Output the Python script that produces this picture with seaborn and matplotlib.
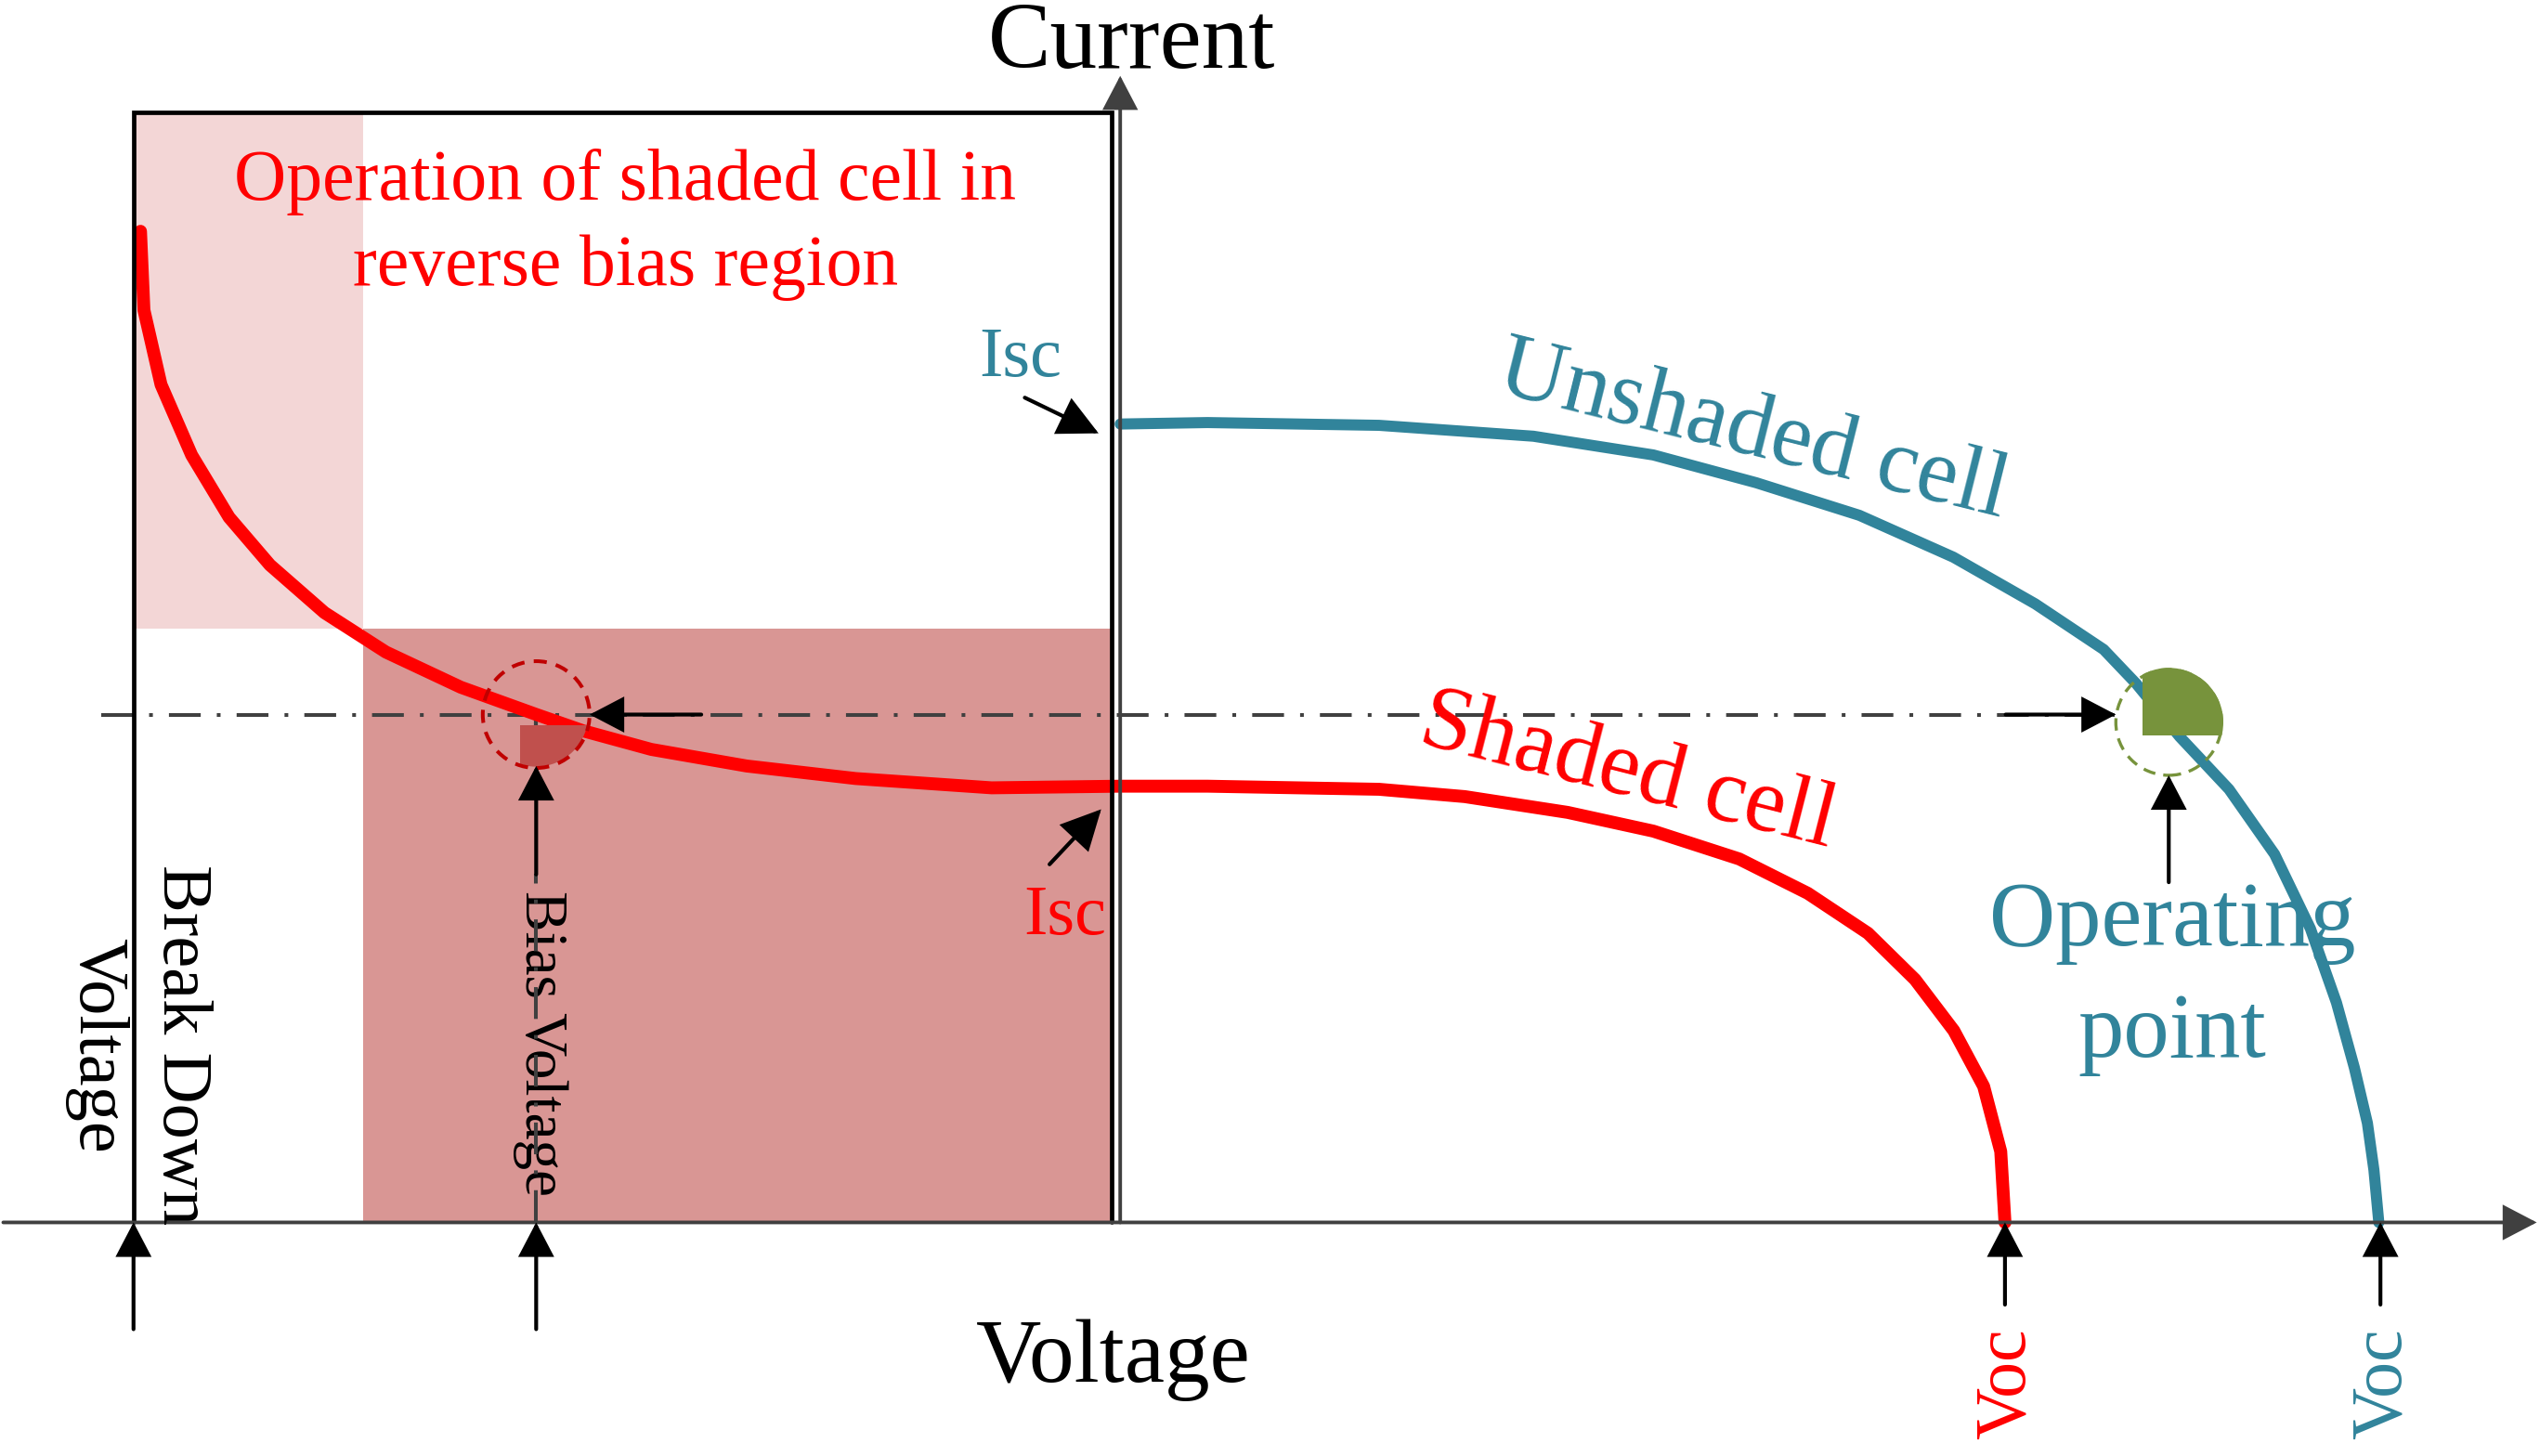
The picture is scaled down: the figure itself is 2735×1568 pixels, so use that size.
import matplotlib
matplotlib.use("Agg")
import matplotlib.pyplot as plt
import seaborn as sns
from matplotlib.patches import Rectangle, Circle, FancyArrowPatch


# ── Data (voltage / current in arbitrary schematic units) ─────────────────────

shaded_v = [-6.017, -5.996, -5.891, -5.703, -5.473, -5.222, -4.887, -4.51, -4.05,
            -3.59, -3.298, -2.88, -2.294, -1.624, -0.79, 0.0, 0.536, 1.59, 2.116,
            2.748, 3.274, 3.802, 4.223, 4.592, 4.882, 5.12, 5.303, 5.408, 5.434]
shaded_i = [6.089, 5.605, 5.147, 4.714, 4.332, 4.039, 3.746, 3.504, 3.288,
            3.122, 3.02, 2.906, 2.804, 2.727, 2.67, 2.68, 2.68, 2.661, 2.616,
            2.519, 2.404, 2.233, 2.022, 1.777, 1.492, 1.178, 0.836, 0.436, 0.0]

unshaded_v = [0.0, 0.536, 1.59, 2.538, 3.274, 3.907, 4.54, 5.117, 5.62, 6.04,
              6.24, 6.507, 6.81, 7.09, 7.31, 7.47, 7.58, 7.66, 7.70, 7.73]
unshaded_i = [4.905, 4.914, 4.897, 4.83, 4.715, 4.544, 4.344, 4.087, 3.80, 3.52,
              3.31, 2.984, 2.661, 2.262, 1.805, 1.35, 0.95, 0.61, 0.322, 0.0]

V_BREAKDOWN = -6.06
V_BIAS = -3.587
V_OP = 6.44
I_OP = 3.12
VOC_SHADED = 5.434
VOC_UNSHADED = 7.74
V_REGION = -4.65      # split between the light and dark reverse-bias regions
I_REGION = 3.65
I_BOX_TOP = 6.82
V_BOX_RIGHT = -0.055

RED = "#FF0000"
TEAL = "#31849B"
GREEN = "#77933C"
GREY = "#404040"
ROSE = "#D99694"
FONT = ["Liberation Serif", "DejaVu Serif"]


def arrow(ax, tail, tip, color="black", lw=3.0, hl=22, hw=11.5, z=7):
    ax.add_patch(FancyArrowPatch(
        tail, tip, arrowstyle=f"-|>,head_length={hl},head_width={hw}",
        mutation_scale=1, color=color, lw=lw, shrinkA=0, shrinkB=0,
        joinstyle="miter", zorder=z))


def marker_blob(ax, centre, r, clip_xy, colour, z):
    """Filled part of the operating-point circle, clipped to one corner."""
    blob = Circle(centre, r, facecolor=colour, edgecolor="none", zorder=z)
    clip = Rectangle(clip_xy, 2.0, 2.0, transform=ax.transData)
    ax.add_patch(blob)
    blob.set_clip_path(clip)


def curve(ax, v, i, colour, width):
    n_before = len(ax.lines)
    sns.lineplot(x=v, y=i, sort=False, estimator=None, color=colour, ax=ax)
    for line in ax.lines[n_before:]:
        line.set_linewidth(width)
        line.set_solid_capstyle("round")
        line.set_solid_joinstyle("round")
        line.set_zorder(4)


# ── Figure ────────────────────────────────────────────────────────────────────

sns.set_style("white")
plt.rcParams["font.family"] = FONT
plt.rcParams["text.color"] = "black"

fig = plt.figure(figsize=(27.35, 15.68), dpi=100)
ax = fig.add_axes([0, 0, 1, 1])
ax.set_xlim(-6.88, 8.72)
ax.set_ylim(-1.435, 7.51)
ax.set_axis_off()

# regions
ax.add_patch(Rectangle((V_BREAKDOWN, I_REGION), V_REGION - V_BREAKDOWN,
                       I_BOX_TOP - I_REGION, facecolor="#F3D6D6",
                       edgecolor="none", zorder=1))
ax.add_patch(Rectangle((V_REGION, 0), V_BOX_RIGHT - V_REGION, I_REGION,
                       facecolor=ROSE, edgecolor="none", zorder=1))

# box around the reverse-bias quadrant
ax.plot([V_BREAKDOWN, V_BREAKDOWN, V_BOX_RIGHT, V_BOX_RIGHT],
        [0, I_BOX_TOP, I_BOX_TOP, 0], color="black", lw=3.4,
        solid_joinstyle="miter", zorder=6)

# axes with arrow heads
arrow(ax, (-6.86, 0), (8.70, 0), color=GREY, lw=2.8, z=6)
arrow(ax, (0, 0), (0, 7.044), color=GREY, lw=2.8, z=6)

# operating current and bias voltage guides
dashdot = (0, (8.5, 4.3, 1, 4.3))
ax.plot([-6.26, V_OP - 0.33], [I_OP, I_OP], color=GREY, lw=2.9,
        linestyle=dashdot, zorder=3)
ax.plot([V_BIAS, V_BIAS], [0, 2.14], color=GREY, lw=2.9,
        linestyle=dashdot, zorder=5)
ax.plot([V_BIAS, V_BIAS], [I_OP, I_OP - 0.065], color=GREY, lw=3, zorder=3)

# I-V curves
curve(ax, shaded_v, shaded_i, RED, 10.0)
curve(ax, unshaded_v, unshaded_i, TEAL, 8.6)

# operating point markers
marker_blob(ax, (V_BIAS, I_OP), 0.32, (V_BIAS - 0.10, I_OP - 0.068 - 2.0),
            "#C0504D", 4)
ax.add_patch(Circle((V_BIAS, I_OP), 0.328, fill=False, edgecolor="#C00000",
                    lw=2.9, linestyle=(0, (3.5, 2.5)), zorder=5))
marker_blob(ax, (V_OP, 3.072), 0.335, (V_OP - 0.16, 3.072 - 0.08), GREEN, 5)
ax.add_patch(Circle((V_OP, 3.072), 0.325, fill=False, edgecolor=GREEN,
                    lw=2.4, linestyle=(0, (4, 2.6)), zorder=5))

# arrows
arrow(ax, (V_BREAKDOWN, -0.656), (V_BREAKDOWN, 0))
arrow(ax, (V_BIAS, -0.656), (V_BIAS, 0))
arrow(ax, (V_BIAS, 2.138), (V_BIAS, 2.804))
arrow(ax, (-2.573, I_OP), (V_BIAS + 0.329, I_OP))
arrow(ax, (5.438, I_OP), (V_OP - 0.325, I_OP))
arrow(ax, (V_OP, 2.09), (V_OP, 2.747))
arrow(ax, (VOC_SHADED, -0.505), (VOC_SHADED, 0))
arrow(ax, (VOC_UNSHADED, -0.505), (VOC_UNSHADED, 0))
arrow(ax, (-0.586, 5.067), (-0.133, 4.848), hl=26, hw=13)
arrow(ax, (-0.434, 2.20), (-0.117, 2.538), hl=26, hw=13)

# ── Labels ────────────────────────────────────────────────────────────────────

ax.text(0.07, 7.092, "Current", fontsize=73, ha="center", va="baseline")
ax.text(-0.043, -0.98, "Voltage", fontsize=70, ha="center", va="baseline")

ax.text(-3.04, 6.284, "Operation of shaded cell in", color=RED, fontsize=56,
        ha="center", va="baseline", zorder=8)
ax.text(-3.04, 5.76, "reverse bias region", color=RED, fontsize=56,
        ha="center", va="baseline", zorder=8)

ax.text(-0.615, 5.2, "Isc", color=TEAL, fontsize=55, ha="center", va="baseline")
ax.text(-0.34, 1.77, "Isc", color=RED, fontsize=55, ha="center", va="baseline",
        zorder=8)

ax.text(3.887, 4.855, "Unshaded cell", color=TEAL, fontsize=71, rotation=-14,
        rotation_mode="anchor", ha="center", va="center")
ax.text(3.117, 2.76, "Shaded cell", color=RED, fontsize=71, rotation=-14.3,
        rotation_mode="anchor", ha="center", va="center")

ax.text(6.46, 1.703, "Operating", color=TEAL, fontsize=71, ha="center",
        va="baseline", zorder=3)
ax.text(6.46, 1.02, "point", color=TEAL, fontsize=71, ha="center",
        va="baseline", zorder=3)

ax.text(-5.876, 1.09, "Break Down", fontsize=55, rotation=-90,
        rotation_mode="anchor", ha="center", va="baseline", zorder=8)
ax.text(-6.396, 1.09, "Voltage", fontsize=55, rotation=-90,
        rotation_mode="anchor", ha="center", va="baseline", zorder=8)
ax.text(-3.651, 1.10, "Bias Voltage", fontsize=47, rotation=-90,
        rotation_mode="anchor", ha="center", va="baseline", zorder=4)

ax.text(5.55, -0.99, "Voc", color=RED, fontsize=56, rotation=90,
        rotation_mode="anchor", ha="center", va="baseline")
ax.text(7.86, -0.99, "Voc", color=TEAL, fontsize=56, rotation=90,
        rotation_mode="anchor", ha="center", va="baseline")

fig.savefig("out.png", dpi=100, facecolor="white")
plt.close(fig)
